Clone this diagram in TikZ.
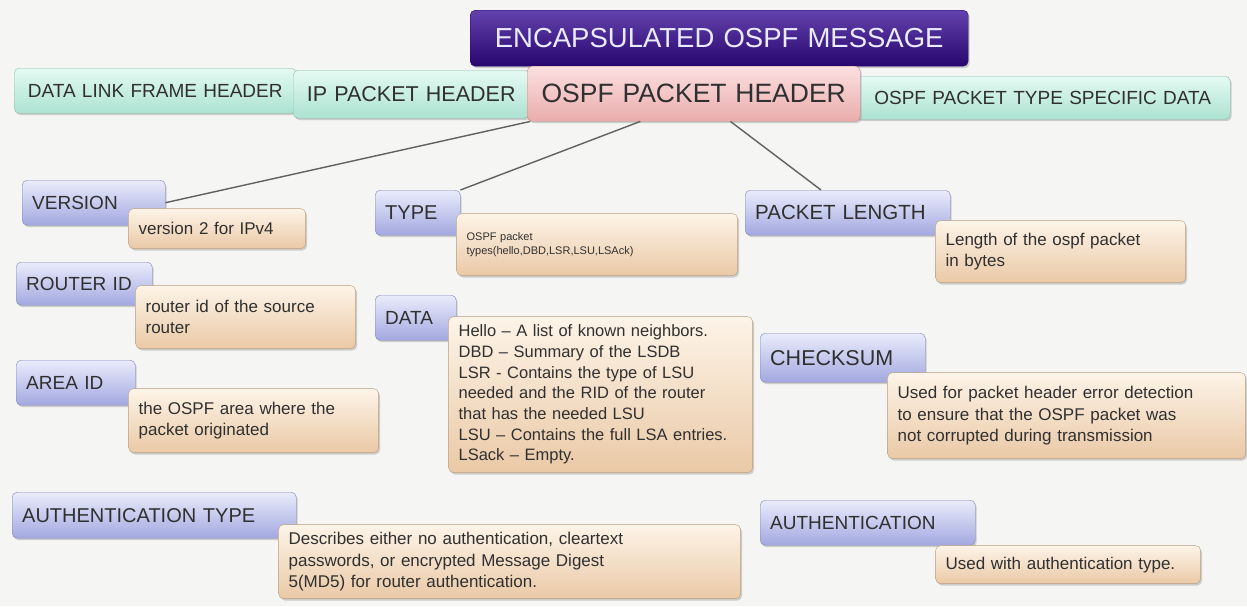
\documentclass[tikz,border=0pt]{standalone}
\usepackage{fontspec}
\setmainfont{Liberation Sans}
\usetikzlibrary{calc,positioning,shadows}
\hyphenpenalty=10000

\definecolor{bluetop}{RGB}{234,236,251}
\definecolor{bluebot}{RGB}{162,168,224}
\definecolor{blueline}{RGB}{128,134,190}
\definecolor{tantop}{RGB}{253,244,232}
\definecolor{tanbot}{RGB}{234,201,166}
\definecolor{tanline}{RGB}{188,158,128}
\definecolor{tealtop}{RGB}{228,250,243}
\definecolor{tealbot}{RGB}{172,226,209}
\definecolor{tealline}{RGB}{138,190,174}
\definecolor{pinktop}{RGB}{252,224,224}
\definecolor{pinkbot}{RGB}{234,172,172}
\definecolor{pinkline}{RGB}{200,140,140}
\definecolor{purptop}{RGB}{98,66,172}
\definecolor{purpbot}{RGB}{40,6,112}
\definecolor{paper}{RGB}{245,245,243}
\definecolor{ink}{RGB}{48,48,48}

\begin{document}
\begin{tikzpicture} [x=1pt, y=-1pt, rounded corners=5pt,
	   box/.style 2 args = {rectangle, anchor=north west, minimum width=#1, minimum height=#2,
	                        text width=#1-20, align=left, inner xsep=10pt, inner ysep=3pt, text=ink,
	                        drop shadow={shadow xshift=1.5pt, shadow yshift=-2pt, opacity=.35}},
	   headbox/.style 2 args = {box={#1}{#2}, align=center},
	   fieldbox/.style 2 args = {box={#1}{#2}, draw=blueline, top color=bluetop, bottom color=bluebot,
	                             font=\fontsize{19}{23}\selectfont},
	   notebox/.style 2 args = {box={#1}{#2}, draw=tanline, top color=tantop, bottom color=tanbot,
	                            font=\fontsize{17}{21.5}\selectfont},
	   link/.style = {draw=black!62, line width=1.4pt, sharp corners}]
	%% Paper
	\fill [paper, sharp corners] (0,0) rectangle (1247,606);
	\useasboundingbox (0,0) rectangle (1247,606);

	%% Message layout
	\node [headbox={498}{56}, draw=purpbot, top color=purptop, bottom color=purpbot, text=white!92!blue,
	       font=\fontsize{27.5}{31}\selectfont] (msg) at (470,10) {ENCAPSULATED OSPF MESSAGE};
	\node [headbox={282}{45}, draw=tealline, top color=tealtop, bottom color=tealbot,
	       font=\fontsize{19}{22}\selectfont] (dlh) at (14,68) {DATA LINK FRAME HEADER};
	\node [headbox={236}{48}, draw=tealline, top color=tealtop, bottom color=tealbot,
	       font=\fontsize{21.5}{25}\selectfont] (iph) at (293,70) {IP PACKET HEADER};
	\node [headbox={375}{43}, draw=tealline, top color=tealtop, bottom color=tealbot,
	       font=\fontsize{19}{22}\selectfont] (tsd) at (855,76) {OSPF PACKET TYPE SPECIFIC DATA};
	\node [headbox={333}{55}, draw=pinkline, top color=pinktop, bottom color=pinkbot,
	       font=\fontsize{26.5}{30}\selectfont] (oph) at (527,66) {OSPF PACKET HEADER};

	%% Header fields
	\node [fieldbox={143}{45}] (ver) at (22,180) {VERSION};
	\node [notebox={177}{40}, below right=-17pt and -37pt of ver.south east] (verN) {version 2 for IPv4};
	\node [fieldbox={136}{43}] (rid) at (16,262) {ROUTER ID};
	\node [notebox={220}{63}, below right=-20pt and -17pt of rid.south east] (ridN) {router id of the source\\router};
	\node [fieldbox={119}{45}] (aid) at (16,360) {AREA ID};
	\node [notebox={250}{64}, below right=-17pt and -7pt of aid.south east] (aidN) {the OSPF area where the\\packet originated};
	\node [fieldbox={284}{46}, font=\fontsize{20}{24}\selectfont] (aut) at (12,492) {AUTHENTICATION TYPE};
	\node [notebox={462}{74}] (autN) [below right=-14pt and -18pt of aut.south east]
	      {Describes either no authentication, cleartext\\passwords, or encrypted Message Digest\\5(MD5) for router authentication.};

	\node [fieldbox={85}{45}, font=\fontsize{20}{24}\selectfont] (typ) at (375,190) {TYPE};
	\node [notebox={281}{62}, below right=-22pt and -4pt of typ.south east,
	       font=\fontsize{11}{14}\selectfont] (typN) {OSPF packet\\types(hello,DBD,LSR,LSU,LSAck)};
	\node [fieldbox={81}{45}] (dat) at (375,295) {DATA};
	\node [notebox={304}{156}, below right=-24pt and -8pt of dat.south east,
	       font=\fontsize{16.5}{20.7}\selectfont, inner ysep=8pt] (datN)
	      {Hello -- A list of known neighbors.\\DBD -- Summary of the LSDB\\LSR - Contains the type of LSU\\needed and the RID of the router\\that has the needed LSU\\LSU -- Contains the full LSA entries.\\LSack -- Empty.};

	\node [fieldbox={205}{45}, font=\fontsize{20.5}{24}\selectfont] (pln) at (745,190) {PACKET LENGTH};
	\node [notebox={250}{62}, below right=-15pt and -15pt of pln.south east] (plnN) {Length of the ospf packet\\in bytes};
	\node [fieldbox={165}{49}, font=\fontsize{21.5}{26}\selectfont] (chk) at (760,333) {CHECKSUM};
	\node [notebox={358}{86}, below right=-10pt and -38pt of chk.south east] (chkN)
	      {Used for packet header error detection\\to ensure that the OSPF packet was\\not corrupted during transmission};
	\node [fieldbox={215}{45}] (ath) at (760,500) {AUTHENTICATION};
	\node [notebox={265}{38}, below right=0pt and -40pt of ath.south east] (athN) {Used with authentication type.};

	%% Links
	\draw [link] ($(oph.south west)!0.01!(oph.south east)$) -- (ver.east);
	\draw [link] ($(oph.south west)!0.34!(oph.south east)$) -- (typ.north east);
	\draw [link] ($(oph.south west)!0.61!(oph.south east)$) -- ($(pln.north west)!0.37!(pln.north east)$);
\end{tikzpicture}
\end{document}
